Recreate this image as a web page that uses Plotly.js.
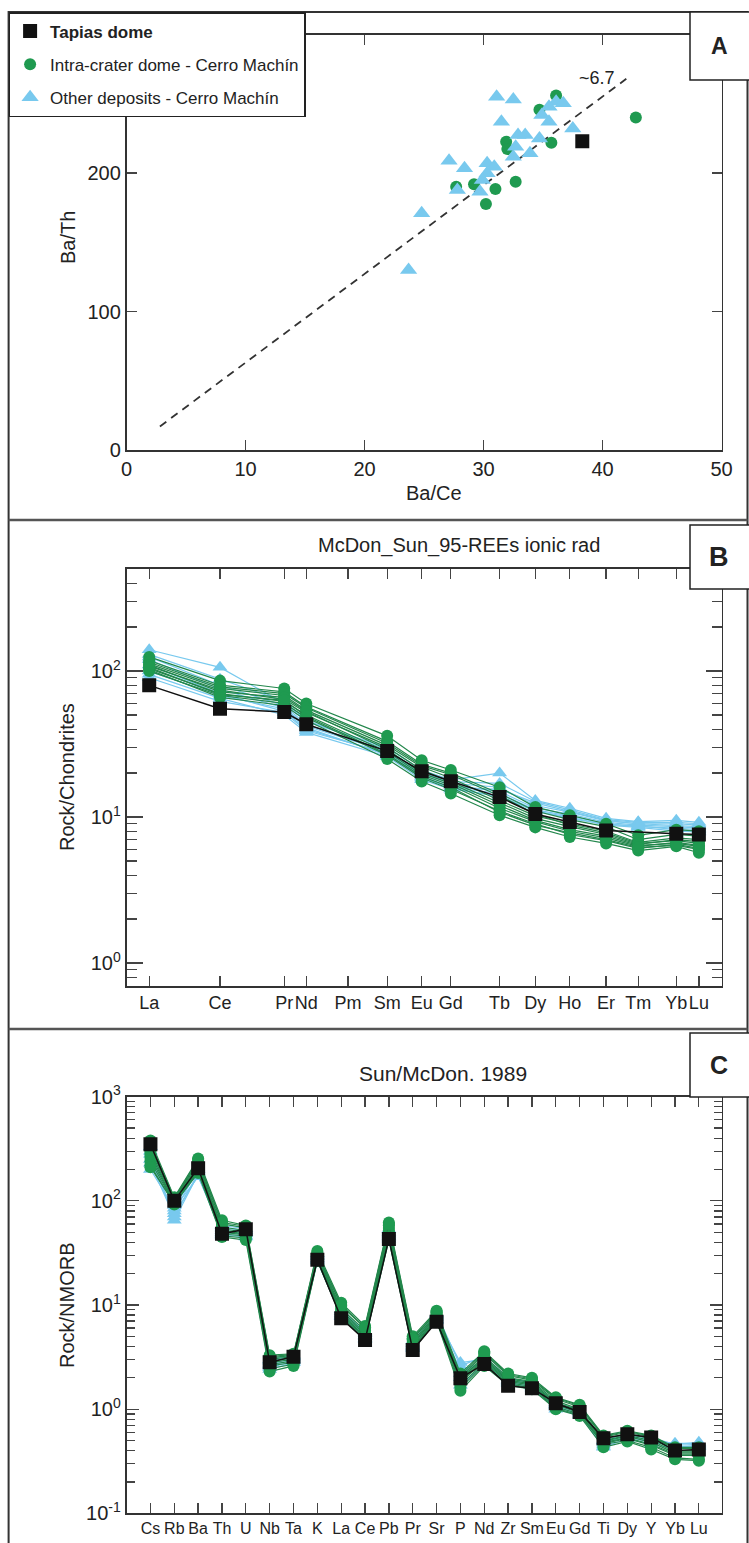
<!DOCTYPE html>
<html>
<head>
<meta charset="utf-8">
<script src="https://cdn.plot.ly/plotly-3.0.1.min.js"></script>
<style>html,body{margin:0;padding:0;background:#fff;}#chart{width:749px;height:1543px;}</style>
</head>
<body>
<div id="chart"></div>
<script>
// ---------------- Panel A: Ba/Ce vs Ba/Th ----------------
const tapiasBaCe = [38.3];
const tapiasBaTh = [223];
const intraBaCe = [36.1, 42.8, 31.9, 32.0, 35.7, 32.7, 27.7, 29.2, 31.0, 30.2, 34.7];
const intraBaTh = [256, 240, 222.6, 217.3, 221.9, 193.7, 190.1, 191.8, 188.4, 177.6, 245.6];
const otherBaCe = [31.1, 32.5, 36.1, 36.7, 35.5, 34.9, 31.5, 35.5, 37.5, 32.9, 33.5, 34.7, 32.7, 33.9, 32.5, 27.1, 28.4, 30.3, 30.9, 30.3, 29.9, 27.8, 29.7, 24.8, 23.7];
const otherBaTh = [255, 253, 251.5, 250.3, 247.9, 241.9, 237, 237, 232.2, 227.4, 227.4, 225, 219, 214.2, 211.8, 208.9, 203.4, 207, 204.6, 199.8, 195, 187.7, 186.5, 170.9, 130];
const trendBaCe = [2.8, 42];
const trendBaTh = [17, 268];
const trendLabel = '~6.7';

// ---------------- Panel B: REE / Chondrite ----------------
const reeNames = ['La','Ce','Pr','Nd','Pm','Sm','Eu','Gd','Tb','Dy','Ho','Er','Tm','Yb','Lu'];
const reeRadiusScale = [3.8, 15.7, 26.5, 30.2, 37.2, 43.8, 49.6, 54.5, 62.7, 68.7, 74.5, 80.6, 86.0, 92.4, 96.2];
const reeTapias = [79.8, 55.2, 52.4, 43.2, null, 28.3, 20.6, 17.6, 13.7, 10.5, 9.25, 8.1, null, 7.7, 7.6];
const reeIntra1 = [125, 86, 76, 60, null, 36, 24.5, 21, 16, 11.7, 10.3, 9.0, 7.5, 8.2, 8.0];
const reeIntra2 = [118, 80, 72, 57, null, 33, 23, 20, 14.5, 11, 9.6, 8.6, 7.0, 7.6, 7.4];
const reeIntra3 = [112, 76, 68, 54, null, 31, 22, 18.5, 13, 10.2, 9.0, 8.0, 6.7, 7.2, 7.0];
const reeIntra4 = [108, 74, 64, 52, null, 30, 21, 17.5, 12.5, 9.8, 8.6, 7.6, 6.5, 7.0, 6.8];
const reeIntra5 = [104, 70, 62, 50, null, 28, 19.5, 16.5, 11.5, 9.3, 8.0, 7.2, 6.3, 6.7, 6.4];
const reeIntra6 = [100, 68, 60, 48, null, 26.5, 18.5, 15.5, 11, 9.0, 7.6, 6.9, 6.1, 6.5, 6.1];
const reeIntra7 = [102, 66, 58, 46, null, 25, 17.5, 14.5, 10.3, 8.5, 7.3, 6.6, 5.9, 6.3, 5.7];
const reeIntra8 = [115, 78, 70, 56, null, 32, 22.5, 19.5, 14, 10.5, 8.8, 7.8, 6.6, 6.9, 6.6];
const reeIntra9 = [110, 72, 66, 53, null, 29, 20, 17, 12, 9.5, 8.2, 7.4, 6.4, 6.6, 6.3];
const reeIntra10 = [106, 69, 63, 49, null, 27, 19, 16, 10.8, 8.8, 7.8, 7.0, 6.2, 6.4, 6.0];
const reeOther1 = [140, 106, 60, 45, null, 30, 21, 18, 20, 13, 11.5, 9.8, 9.3, 9.5, 9.2];
const reeOther2 = [130, 88, 62, 46, null, 29, 20, 17, 16, 12, 10.8, 9.4, 9.0, 9.0, 8.8];
const reeOther3 = [120, 75, 56, 42, null, 28, 19.5, 16.5, 15, 11.5, 10.5, 9.2, 8.8, 8.6, 8.4];
const reeOther4 = [110, 70, 53, 40, null, 27, 18.5, 16, 14.5, 11.2, 10.2, 9.0, 8.6, 8.4, 8.2];
const reeOther5 = [95, 65, 50, 38, null, 26, 18, 15.5, 14, 11, 10, 8.8, 8.5, 8.0, 7.9];
const reeOther6 = [90, 62, 52, 39, null, 27.5, 19, 16, 15.5, 12.5, 11, 9.5, 9.0, 8.8, 8.6];
const reeOther7 = [125, 80, 58, 43, null, 28.5, 20, 17.5, 17, 12.8, 11.2, 9.6, 9.2, 9.2, 9.0];
const reeOther8 = [100, 68, 55, 41, null, 26.5, 18.8, 15.8, 13.8, 11, 9.8, 8.9, 8.7, 8.2, 8.0];
const reeDecades = [1, 10, 100];
const reeDecadeLabels = ['10<sup>0</sup>', '10<sup>1</sup>', '10<sup>2</sup>'];

// ---------------- Panel C: spider / NMORB ----------------
const spiderNames = ['Cs','Rb','Ba','Th','U','Nb','Ta','K','La','Ce','Pb','Pr','Sr','P','Nd','Zr','Sm','Eu','Gd','Ti','Dy','Y','Yb','Lu'];
const spTapias = [350, 100, 206, 48.2, 53.5, 2.82, 3.19, 27.2, 7.45, 4.61, 43.1, 3.7, 6.92, 1.98, 2.72, 1.68, 1.59, 1.14, 0.94, 0.525, 0.575, 0.535, 0.40, 0.41];
const spIntra1 = [380, 108, 255, 65, 58, 3.3, 3.4, 33, 10.5, 6.3, 62, 5.0, 8.8, 2.2, 3.6, 2.2, 2.0, 1.3, 1.1, 0.56, 0.62, 0.56, 0.43, 0.43];
const spIntra2 = [340, 104, 240, 60, 55, 3.1, 3.3, 31, 9.8, 6.0, 58, 4.7, 8.5, 2.0, 3.4, 2.1, 1.9, 1.25, 1.05, 0.54, 0.60, 0.54, 0.42, 0.42];
const spIntra3 = [320, 102, 230, 56, 52, 3.0, 3.2, 30, 9.2, 5.7, 55, 4.5, 8.2, 1.95, 3.2, 2.0, 1.85, 1.2, 1.0, 0.52, 0.58, 0.52, 0.40, 0.40];
const spIntra4 = [300, 100, 220, 54, 50, 2.9, 3.1, 29, 8.8, 5.4, 52, 4.3, 8.0, 1.9, 3.1, 1.95, 1.8, 1.15, 0.98, 0.50, 0.56, 0.50, 0.39, 0.39];
const spIntra5 = [280, 98, 212, 52, 48, 2.8, 3.0, 28.5, 8.5, 5.2, 50, 4.2, 7.8, 1.85, 3.0, 1.9, 1.75, 1.12, 0.95, 0.49, 0.55, 0.48, 0.38, 0.38];
const spIntra6 = [260, 96, 205, 50, 47, 2.7, 2.9, 28, 8.2, 5.0, 48, 4.0, 7.6, 1.8, 2.9, 1.85, 1.7, 1.1, 0.92, 0.48, 0.53, 0.46, 0.37, 0.37];
const spIntra7 = [240, 94, 198, 48, 46, 2.6, 2.8, 27.5, 8.0, 4.9, 46, 3.9, 7.4, 1.7, 2.8, 1.8, 1.65, 1.05, 0.9, 0.47, 0.52, 0.45, 0.36, 0.36];
const spIntra8 = [220, 92, 192, 46, 44, 2.45, 2.7, 27, 7.8, 4.7, 44, 3.8, 7.2, 1.6, 2.7, 1.75, 1.6, 1.02, 0.88, 0.46, 0.50, 0.43, 0.34, 0.33];
const spIntra9 = [210, 95, 185, 45, 42, 2.3, 2.6, 26.5, 7.6, 4.6, 42, 3.7, 7.0, 1.5, 2.6, 1.7, 1.55, 1.0, 0.86, 0.43, 0.49, 0.41, 0.33, 0.32];
const spIntra10 = [360, 106, 248, 62, 57, 3.2, 3.35, 32, 10, 6.1, 60, 4.8, 8.6, 2.1, 3.5, 2.15, 1.95, 1.28, 1.08, 0.55, 0.61, 0.55, 0.42, 0.42];
const spOther1 = [300, 65, 180, 50, 48, 2.6, 3.0, 28, 8.0, 5.0, 46, 4.0, 7.5, 2.8, 3.0, 1.9, 1.7, 1.1, 0.95, 0.5, 0.55, 0.5, 0.47, 0.47];
const spOther2 = [250, 75, 175, 48, 46, 2.5, 2.9, 27, 7.8, 4.8, 45, 3.9, 7.2, 2.4, 2.8, 1.8, 1.65, 1.05, 0.9, 0.48, 0.54, 0.48, 0.45, 0.46];
const spOther3 = [200, 85, 170, 52, 50, 2.7, 3.1, 29, 8.3, 5.1, 48, 4.1, 7.8, 2.2, 2.9, 1.85, 1.7, 1.08, 0.93, 0.44, 0.56, 0.5, 0.44, 0.44];
const spOther4 = [280, 90, 190, 55, 52, 2.9, 3.2, 30, 8.6, 5.3, 50, 4.3, 8.0, 2.0, 3.1, 1.9, 1.75, 1.12, 0.96, 0.46, 0.57, 0.52, 0.43, 0.45];
const spOther5 = [330, 80, 200, 58, 54, 3.0, 3.3, 31, 9.0, 5.5, 53, 4.5, 8.3, 2.6, 3.2, 2.0, 1.8, 1.15, 0.98, 0.5, 0.58, 0.53, 0.46, 0.48];
const spOther6 = [230, 70, 185, 47, 45, 2.4, 2.8, 26.5, 7.7, 4.7, 43, 3.8, 7.1, 1.7, 2.7, 1.75, 1.6, 1.0, 0.88, 0.43, 0.52, 0.46, 0.42, 0.44];
const spDecades = [0.1, 1, 10, 100, 1000];
const spDecadeLabels = ['10<sup>-1</sup>', '10<sup>0</sup>', '10<sup>1</sup>', '10<sup>2</sup>', '10<sup>3</sup>'];

const labels = {
  tapias: 'Tapias dome',
  intra: 'Intra-crater dome - Cerro Machín',
  other: 'Other deposits - Cerro Machín'
};

// ---------------- styling ----------------
const FONT = 'Liberation Sans, Arial, Helvetica, sans-serif';
const GREEN = '#1f9a50';
const GREEN_LINE = '#23874c';
const CYAN = '#78c9ee';
const BLACK = '#111111';
const W = 749, H = 1543;
const px = v => v / W;
const py = v => 1 - v / H;

const traces = [];

// Panel A
traces.push({x: trendBaCe, y: trendBaTh, xaxis: 'x', yaxis: 'y', mode: 'lines',
  line: {color: '#333', width: 1.8, dash: '8px,6px'}, showlegend: false, hoverinfo: 'skip'});
traces.push({x: intraBaCe, y: intraBaTh, xaxis: 'x', yaxis: 'y', mode: 'markers', name: labels.intra,
  legendrank: 2, legendgroup: 'g2',
  marker: {symbol: 'circle', size: 12, color: GREEN}});
traces.push({x: otherBaCe, y: otherBaTh, xaxis: 'x', yaxis: 'y', mode: 'markers', name: labels.other,
  legendrank: 3, legendgroup: 'g3',
  marker: {symbol: 'triangle-up', size: 15, color: CYAN}});
traces.push({x: tapiasBaCe, y: tapiasBaTh, xaxis: 'x', yaxis: 'y', mode: 'markers', name: '<b>' + labels.tapias + '</b>',
  legendrank: 1, legendgroup: 'g1',
  marker: {symbol: 'square', size: 14, color: BLACK}});

// Panel B & C helper
function addSeries(xs, ys, ax, kind) {
  const style = {
    other: {line: {color: CYAN, width: 1.2}, marker: {symbol: 'triangle-up', size: 13, color: CYAN}},
    intra: {line: {color: GREEN_LINE, width: 1.2}, marker: {symbol: 'circle', size: 12, color: GREEN}},
    tapias: {line: {color: BLACK, width: 1.5}, marker: {symbol: 'square', size: 14, color: BLACK}}
  }[kind];
  traces.push({x: xs, y: ys, xaxis: 'x' + ax, yaxis: 'y' + ax, mode: 'lines+markers', connectgaps: true,
    line: style.line, marker: style.marker, showlegend: false, hoverinfo: 'skip'});
}
[reeOther1, reeOther2, reeOther3, reeOther4, reeOther5, reeOther6, reeOther7, reeOther8].forEach(s => addSeries(reeRadiusScale, s, 2, 'other'));
[reeIntra1, reeIntra2, reeIntra3, reeIntra4, reeIntra5, reeIntra6, reeIntra7, reeIntra8, reeIntra9, reeIntra10].forEach(s => addSeries(reeRadiusScale, s, 2, 'intra'));
addSeries(reeRadiusScale, reeTapias, 2, 'tapias');

[spOther1, spOther2, spOther3, spOther4, spOther5, spOther6].forEach(s => addSeries(spiderNames, s, 3, 'other'));
[spIntra1, spIntra2, spIntra3, spIntra4, spIntra5, spIntra6, spIntra7, spIntra8, spIntra9, spIntra10].forEach(s => addSeries(spiderNames, s, 3, 'intra'));
addSeries(spiderNames, spTapias, 3, 'tapias');

const axCommon = {showgrid: false, zeroline: false, showline: true, linecolor: '#333', linewidth: 1.8,
  mirror: 'ticks', ticks: 'inside', tickcolor: '#444', tickwidth: 1.3, fixedrange: true, tickangle: 0,
  tickfont: {family: FONT, size: 20, color: '#222'}};

function ann(text, x, y, size, extra) {
  return Object.assign({text: text, xref: 'paper', yref: 'paper', x: px(x), y: py(y), xanchor: 'center', yanchor: 'middle',
    showarrow: false, font: {family: FONT, size: size, color: '#222'}}, extra || {});
}

const layout = {
  width: W, height: H, margin: {l: 0, r: 0, t: 0, b: 0},
  paper_bgcolor: '#fff', plot_bgcolor: 'rgba(0,0,0,0)',
  font: {family: FONT, color: '#222'},
  showlegend: true,
  legend: {x: px(8.6), y: py(12), xanchor: 'left', yanchor: 'top', bgcolor: '#fff',
    bordercolor: '#222', borderwidth: 1.5, font: {family: FONT, size: 17, color: '#222'},
    tracegroupgap: 8, traceorder: 'grouped', itemwidth: 30},
  xaxis: Object.assign({}, axCommon, {domain: [px(126.6), px(721.5)], anchor: 'y', range: [0, 50],
    tickvals: [0, 10, 20, 30, 40, 50], ticklen: 10}),
  yaxis: Object.assign({}, axCommon, {domain: [py(450), py(34.5)], anchor: 'x', range: [0, 300],
    tickvals: [0, 100, 200], ticklen: 10}),
  xaxis2: Object.assign({}, axCommon, {domain: [px(126.6), px(721.5)], anchor: 'y2', range: [0, 100],
    tickvals: reeRadiusScale, ticktext: reeNames, ticklen: 10,
    tickfont: {family: FONT, size: 18, color: '#222'}}),
  yaxis2: Object.assign({}, axCommon, {domain: [py(985.7), py(569)], anchor: 'x2', type: 'log',
    range: [Math.log10(0.7), Math.log10(500)], tickvals: reeDecades, ticktext: reeDecadeLabels, ticklen: 16,
    minor: {ticks: 'inside', ticklen: 10, tickcolor: '#444', tickwidth: 1.3, dtick: 'D1'}}),
  xaxis3: Object.assign({}, axCommon, {domain: [px(126.6), px(721.5)], anchor: 'y3', type: 'category',
    range: [-1, 23.95], tickmode: 'linear', tick0: 0, dtick: 1, ticklen: 10,
    tickfont: {family: FONT, size: 16, color: '#222'}}),
  yaxis3: Object.assign({}, axCommon, {domain: [py(1513.3), py(1096.7)], anchor: 'x3', type: 'log',
    range: [-1, 3], tickvals: spDecades, ticktext: spDecadeLabels, ticklen: 12,
    minor: {ticks: 'inside', ticklen: 8, tickcolor: '#444', tickwidth: 1.3, dtick: 'D1'}}),
  shapes: [
    {type: 'rect', xref: 'paper', yref: 'paper', x0: px(8.6), x1: px(747.5), y0: py(1548), y1: py(12),
      line: {color: '#333', width: 2}, layer: 'above'},
    {type: 'line', xref: 'paper', yref: 'paper', x0: px(8.6), x1: px(747.5), y0: py(520), y1: py(520),
      line: {color: '#555', width: 2.5}, layer: 'above'},
    {type: 'line', xref: 'paper', yref: 'paper', x0: px(8.6), x1: px(747.5), y0: py(1029), y1: py(1029),
      line: {color: '#555', width: 2.5}, layer: 'above'},
    {type: 'rect', xref: 'paper', yref: 'paper', x0: px(690), x1: px(752), y0: py(80), y1: py(12),
      fillcolor: '#fff', line: {color: '#222', width: 1.5}, layer: 'above'},
    {type: 'rect', xref: 'paper', yref: 'paper', x0: px(690), x1: px(752), y0: py(589), y1: py(525),
      fillcolor: '#fff', line: {color: '#222', width: 1.5}, layer: 'above'},
    {type: 'rect', xref: 'paper', yref: 'paper', x0: px(690), x1: px(752), y0: py(1097), y1: py(1033),
      fillcolor: '#fff', line: {color: '#222', width: 1.5}, layer: 'above'}
  ],
  annotations: [
    ann('Ba/Ce', 434, 493, 20),
    ann('Ba/Th', 68, 238, 20, {textangle: -90}),
    {text: trendLabel, xref: 'x', yref: 'y', x: 39.5, y: 268.6, xanchor: 'center', yanchor: 'middle', showarrow: false,
      font: {family: FONT, size: 18, color: '#222'}},
    ann('Rock/Chondrites', 67, 777, 20, {textangle: -90}),
    ann('McDon_Sun_95-REEs ionic rad', 459, 545, 20),
    ann('Rock/NMORB', 67, 1305, 20, {textangle: -90}),
    ann('Sun/McDon. 1989', 443, 1073, 21),
    ann('<b>A</b>', 719, 46, 23),
    ann('<b>B</b>', 719, 557, 27),
    ann('<b>C</b>', 719, 1065, 25)
  ]
};

Plotly.newPlot('chart', traces, layout, {displayModeBar: false, staticPlot: true});
</script>
</body>
</html>
